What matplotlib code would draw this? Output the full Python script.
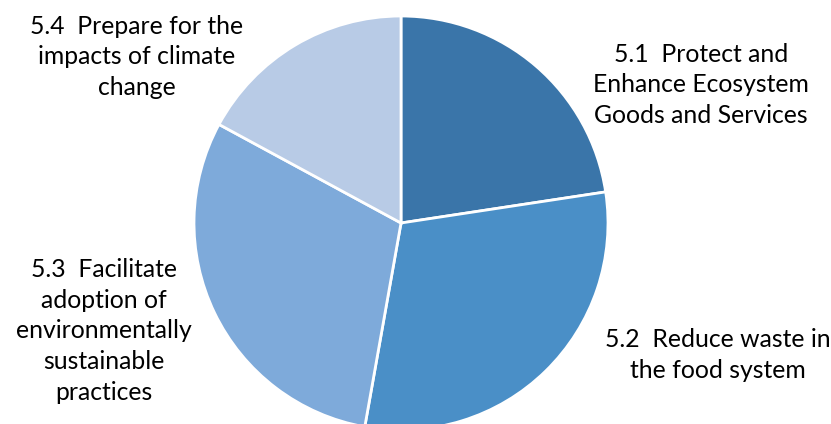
import matplotlib
matplotlib.use("Agg")
import matplotlib.pyplot as plt

# Shares of each objective (percent)
labels = [
    "5.1  Protect and\nEnhance Ecosystem\nGoods and Services",
    "5.2  Reduce waste in\nthe food system",
    "5.3  Facilitate\nadoption of\nenvironmentally\nsustainable\npractices",
    "5.4  Prepare for the\nimpacts of climate\nchange",
]
values = [22.6, 30.2, 30.1, 17.1]
colors = ["#3A75A9", "#4A8FC7", "#7EAADA", "#B8CBE6"]

W, H = 831, 424
fig = plt.figure(figsize=(W / 100, H / 100), dpi=100)
ax = fig.add_axes([0, 0, 1, 1])

ax.pie(values, colors=colors, startangle=90, counterclock=False,
       center=(401, H - 223), radius=207, frame=True,
       wedgeprops=dict(edgecolor="white", linewidth=2))
ax.set_xlim(0, W)
ax.set_ylim(0, H)
ax.set_aspect("equal")
ax.axis("off")

# label positions in pixel space (x, y from top)
label_pos = [(701, 85), (718, 355), (104, 331), (137, 57)]
for txt, (x, y) in zip(labels, label_pos):
    ax.text(x, H - y, txt, ha="center", va="center", fontsize=17.8,
            family="Lato", color="#000000", linespacing=1.42)

fig.savefig("out.png", dpi=100)
